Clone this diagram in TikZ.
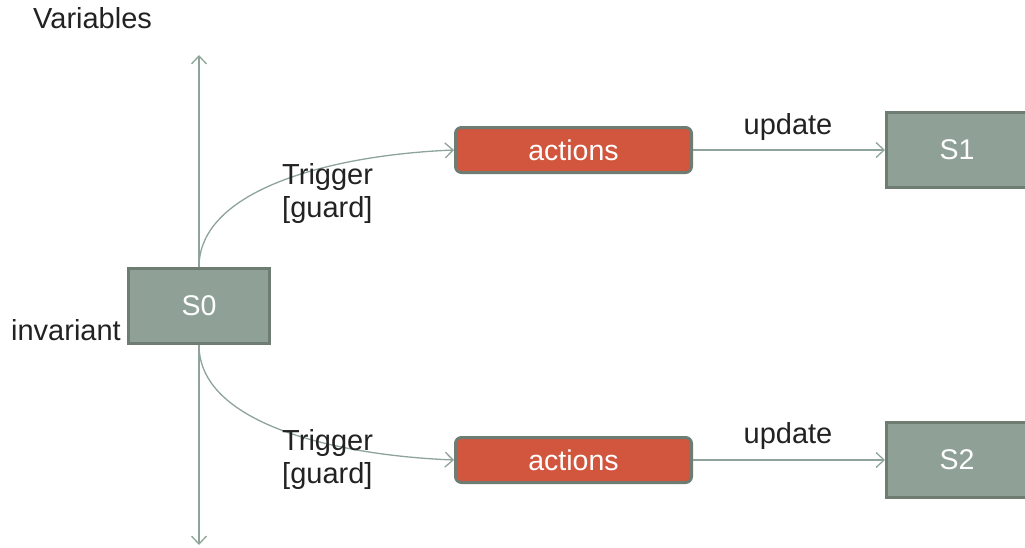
\documentclass[tikz,border=0pt]{standalone}
\usepackage{fontspec}
\setmainfont{Liberation Sans}
\usetikzlibrary{arrows.meta}
\definecolor{statefill}{HTML}{8FA196}
\definecolor{stateline}{HTML}{6F7C71}
\definecolor{actfill}{HTML}{D2553E}
\definecolor{wire}{HTML}{8EA399}
\definecolor{ink}{HTML}{222222}
\tikzset{
  state/.style={draw=stateline, fill=statefill, line width=3pt, minimum width=141pt, minimum height=75pt, text=white, font=\fontsize{28.5}{30}\selectfont, inner sep=0pt},
  act/.style={draw=stateline, fill=actfill, line width=3pt, rounded corners=6pt, minimum width=236pt, minimum height=45pt, text=white, font=\fontsize{28.5}{30}\selectfont, inner sep=0pt},
  wirearrow/.style={draw=wire, line width=1.3pt, -{Straight Barb[length=8pt,width=15pt]}},
  lbl/.style={text=ink, font=\fontsize{29}{33}\selectfont, inner sep=0pt},
}
\begin{document}
\begin{tikzpicture}[x=1pt, y=-1pt]
\useasboundingbox (0,0) rectangle (1025,547);
% variable axis
\coordinate (axtop) at (199,55);
\coordinate (axbot) at (199,545);
\node[lbl, anchor=west] (vars) at (33,18) {Variables};
\draw[wirearrow] (199,306) -- (axtop);
\draw[wirearrow] (199,306) -- (axbot);
% states and actions
\node[state] (s0) at (199,306) {S0};
\node[act] (a1) at (573.5,150) {actions};
\node[act] (a2) at (573.5,460) {actions};
\node[state] (s1) at (957,150) {S1};
\node[state] (s2) at (957,460) {S2};
\node[lbl, anchor=east] (inv) at (121,330) {invariant};
% transitions
\draw[wirearrow] (s0.north) .. controls +(0,-77) and +(-124,5) .. (a1.west);
\draw[wirearrow] (s0.south) .. controls +(0,77) and +(-124,-5) .. (a2.west);
\node[lbl, align=left, anchor=west] (t1) at (282,193) {Trigger\\{}[guard]};
\node[lbl, align=left, anchor=west] (t2) at (282,459) {Trigger\\{}[guard]};
\draw[wirearrow] (a1.east) -- (s1.west);
\draw[wirearrow] (a2.east) -- (s2.west);
\node[lbl] (u1) at (788,127) {update};
\node[lbl] (u2) at (788,436) {update};
\end{tikzpicture}
\end{document}
